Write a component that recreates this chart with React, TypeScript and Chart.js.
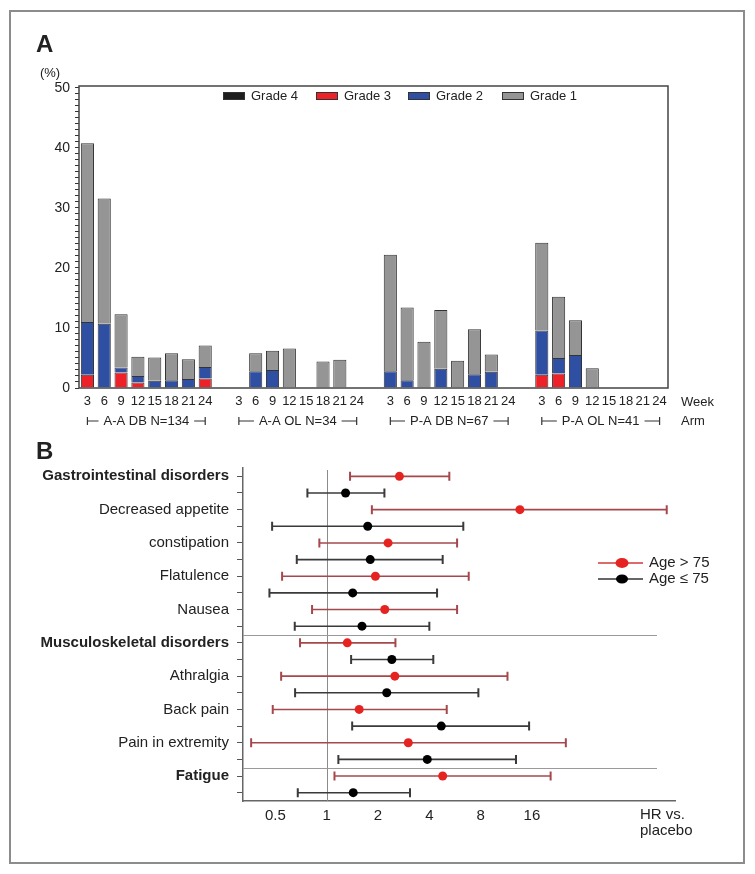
import React, { useEffect, useRef } from 'react';
import { Chart, registerables } from 'chart.js';
Chart.register(...registerables);

const FONT = '"Liberation Sans", Arial, sans-serif';

// ---------- Panel A data ----------
const weeks = ['3', '6', '9', '12', '15', '18', '21', '24'];
const arms = ['A-A DB N=134', 'A-A OL N=34', 'P-A DB N=67', 'P-A OL N=41'];
const gradeNames = ['Grade 4', 'Grade 3', 'Grade 2', 'Grade 1'];
const gradeColors = ['#1e1e1e', '#ee2028', '#2f4fa2', '#959595'];
// per arm (A-A DB, A-A OL, P-A DB, P-A OL), per week 3..24, in %
const grade4 = [
  0, 0, 0, 0, 0, 0, 0, 0,
  0, 0, 0, 0, 0, 0, 0, 0,
  0, 0, 0, 0, 0, 0, 0, 0,
  0, 0, 0, 0, 0, 0, 0, 0,
];
const grade3 = [
  2.2, 0, 2.6, 0.9, 0, 0, 0, 1.6,
  0, 0, 0, 0, 0, 0, 0, 0,
  0, 0, 0, 0, 0, 0, 0, 0,
  2.2, 2.4, 0, 0, 0, 0, 0, 0,
];
const grade2 = [
  8.8, 10.7, 0.8, 1.1, 1.2, 1.3, 1.5, 1.9,
  0, 2.8, 3.0, 0, 0, 0, 0, 0,
  2.8, 1.3, 0, 3.2, 0, 2.3, 2.7, 0,
  7.4, 2.6, 5.5, 0, 0, 0, 0, 0,
];
const grade1 = [
  29.8, 20.9, 8.9, 3.2, 3.9, 4.5, 3.3, 3.6,
  0, 3.0, 3.2, 6.6, 0, 4.4, 4.7, 0,
  19.4, 12.1, 7.7, 9.8, 4.55, 7.5, 2.9, 0,
  14.6, 10.2, 5.8, 3.3, 0, 0, 0, 0,
];
const yTickValues = [0, 10, 20, 30, 40, 50];

// ---------- Panel B data ----------
const aeNames = [
  'Gastrointestinal disorders', 'Decreased appetite', 'constipation', 'Flatulence', 'Nausea',
  'Musculoskeletal disorders', 'Athralgia', 'Back pain', 'Pain in extremity', 'Fatigue',
];
const aeBold = [true, false, false, false, false, true, false, false, false, true];
const oldLo = [1.37, 1.84, 0.905, 0.547, 0.82, 0.697, 0.54, 0.482, 0.36, 1.11];
const oldHr = [2.67, 13.6, 2.29, 1.93, 2.19, 1.32, 2.51, 1.55, 3.01, 4.79];
const oldHi = [5.24, 98.9, 5.82, 6.81, 5.82, 2.53, 11.5, 5.06, 25.3, 20.6];
const youngLo = [0.77, 0.478, 0.667, 0.461, 0.649, 1.39, 0.652, 1.41, 1.17, 0.676];
const youngHr = [1.29, 1.74, 1.80, 1.42, 1.61, 2.41, 2.25, 4.70, 3.89, 1.43];
const youngHi = [2.18, 6.33, 4.79, 4.44, 4.0, 4.22, 7.76, 15.4, 12.9, 3.08];
const hrTicks = [0.5, 1, 2, 4, 8, 16];
const seriesNames = ['Age > 75', 'Age \u2264 75'];
const HR_MIN = 0.3225;
const HR_MAX = 110.6;

function expand(arr: number[]): (number | null)[] {
  const out: (number | null)[] = [];
  for (let a = 0; a < 4; a++) {
    for (let w = 0; w < 8; w++) out.push(arr[a * 8 + w]);
    if (a < 3) out.push(null);
  }
  return out;
}
function catLabels(): string[] {
  const out: string[] = [];
  for (let a = 0; a < 4; a++) {
    weeks.forEach((w) => out.push(w));
    if (a < 3) out.push('');
  }
  return out;
}

const A_W = 730, A_H = 421, A_X = 12, A_Y = 14;
const B_W = 730, B_H = 424, B_X = 12, B_Y = 436;

function PanelA() {
  const ref = useRef<HTMLCanvasElement>(null);
  useEffect(() => {
    const ctxEl = ref.current!;
    const plugin = {
      id: 'panelA',
      afterDatasetsDraw(chart: any) {
        const { ctx, chartArea } = chart;
        ctx.save();
        ctx.strokeStyle = '#444';
        ctx.lineWidth = 1.5;
        ctx.strokeRect(chartArea.left, chartArea.top, chartArea.right - chartArea.left, chartArea.bottom - chartArea.top);
        ctx.restore();
      },
      afterDraw(chart: any) {
        const { ctx } = chart;
        const xs = chart.scales.x;
        ctx.save();
        ctx.fillStyle = '#222';
        ctx.textBaseline = 'middle';
        ctx.font = `bold 24px ${FONT}`;
        ctx.textAlign = 'left';
        ctx.fillText('A', 24, 31);
        ctx.font = `13px ${FONT}`;
        ctx.textAlign = 'center';
        ctx.fillText('(%)', 38, 59);
        // legend
        const lx = [211, 304, 396, 490];
        ctx.textAlign = 'left';
        gradeNames.forEach((g, i) => {
          ctx.fillStyle = gradeColors[i];
          ctx.fillRect(lx[i], 78, 22, 8);
          ctx.strokeStyle = '#333';
          ctx.lineWidth = 1;
          ctx.strokeRect(lx[i] + 0.5, 78.5, 21, 7);
          ctx.fillStyle = '#222';
          ctx.fillText(g, lx[i] + 28, 82);
        });
        ctx.fillText('Week', 669, 388);
        ctx.fillText('Arm', 669, 407);
        // arm brackets
        arms.forEach((arm, a) => {
          const x0 = xs.getPixelForValue(a * 9);
          const x1 = xs.getPixelForValue(a * 9 + 7);
          const cx = (x0 + x1) / 2;
          const y = 407;
          const tw = ctx.measureText(arm).width;
          ctx.textAlign = 'center';
          ctx.fillStyle = '#222';
          ctx.fillText(arm, cx, y);
          ctx.strokeStyle = '#333';
          ctx.lineWidth = 1.2;
          ctx.beginPath();
          ctx.moveTo(x0, y - 4); ctx.lineTo(x0, y + 4);
          ctx.moveTo(x0, y); ctx.lineTo(cx - tw / 2 - 5, y);
          ctx.moveTo(cx + tw / 2 + 5, y); ctx.lineTo(x1, y);
          ctx.moveTo(x1, y - 4); ctx.lineTo(x1, y + 4);
          ctx.stroke();
        });
        ctx.restore();
      },
    };
    const grades = [grade4, grade3, grade2, grade1];
    const chart = new Chart(ctxEl, {
      type: 'bar',
      data: {
        labels: catLabels(),
        datasets: grades.map((g, i) => ({
          label: gradeNames[i],
          data: expand(g),
          backgroundColor: gradeColors[i],
          borderColor: '#333',
          borderWidth: 1,
          categoryPercentage: 1,
          barPercentage: 0.78,
        })),
      },
      options: {
        animation: false,
        responsive: false,
        devicePixelRatio: 1,
        layout: { padding: { left: 0, top: 86 - A_Y, right: A_X + A_W - 668, bottom: 0 } },
        plugins: { legend: { display: false }, tooltip: { enabled: false } },
        scales: {
          x: {
            stacked: true,
            grid: { display: false, drawTicks: false },
            border: { display: false },
            ticks: { autoSkip: false, maxRotation: 0, padding: 6, color: '#222', font: { family: FONT, size: 13 } },
            afterFit: (s: any) => { s.height = A_Y + A_H - 388; },
          },
          y: {
            stacked: true,
            min: 0,
            max: 50.33,
            grid: { display: true, drawOnChartArea: false, drawTicks: true, tickLength: 4, tickColor: '#333', tickWidth: 1 },
            border: { display: false },
            ticks: {
              autoSkip: false,
              padding: 5,
              color: '#222',
              font: { family: FONT, size: 14 },
              callback: (v: any) => (yTickValues.includes(Number(v)) ? String(v) : ''),
            },
            afterBuildTicks: (s: any) => {
              const t = [];
              for (let v = 0; v <= 50; v++) t.push({ value: v });
              s.ticks = t;
            },
            afterFit: (s: any) => { s.width = 79 - A_X; },
          },
        },
      },
      plugins: [plugin],
    } as any);
    return () => chart.destroy();
  }, []);
  return (
    <canvas ref={ref} width={A_W} height={A_H}
      style={{ position: 'absolute', left: A_X - 8, top: A_Y - 8, width: A_W, height: A_H }} />
  );
}

function PanelB() {
  const ref = useRef<HTMLCanvasElement>(null);
  useEffect(() => {
    const el = ref.current!;
    const redLine = '#a5484c';
    const blackLine = '#3a3a3a';
    const plugin = {
      id: 'panelB',
      beforeDatasetsDraw(chart: any) {
        const { ctx, chartArea } = chart;
        const xs = chart.scales.x, ys = chart.scales.y;
        ctx.save();
        // reference line at HR = 1
        const x1 = Math.round(xs.getPixelForValue(1)) + 0.5;
        ctx.strokeStyle = '#8a8a8a';
        ctx.lineWidth = 1;
        ctx.beginPath();
        ctx.moveTo(x1, chartArea.top + 2); ctx.lineTo(x1, chartArea.bottom);
        ctx.stroke();
        // dividers between groups
        [10.5, 18.5].forEach((r) => {
          const y = Math.round(ys.getPixelForValue(r)) + 0.5;
          ctx.strokeStyle = '#9a9a9a';
          ctx.beginPath();
          ctx.moveTo(chartArea.left, y); ctx.lineTo(chartArea.right - 18, y);
          ctx.stroke();
        });
        const drawCI = (lo: number, hi: number, row: number, col: string) => {
          const y = ys.getPixelForValue(row);
          const a = xs.getPixelForValue(lo), b = xs.getPixelForValue(hi);
          ctx.strokeStyle = col;
          ctx.lineWidth = 1.6;
          ctx.beginPath();
          ctx.moveTo(a, y); ctx.lineTo(b, y);
          ctx.stroke();
          ctx.lineWidth = 2;
          ctx.beginPath();
          ctx.moveTo(a, y - 4.5); ctx.lineTo(a, y + 4.5);
          ctx.moveTo(b, y - 4.5); ctx.lineTo(b, y + 4.5);
          ctx.stroke();
        };
        aeNames.forEach((_, i) => {
          drawCI(oldLo[i], oldHi[i], 2 * i + 1, redLine);
          drawCI(youngLo[i], youngHi[i], 2 * i + 2, blackLine);
        });
        ctx.restore();
      },
      afterDraw(chart: any) {
        const { ctx } = chart;
        ctx.save();
        ctx.fillStyle = '#222';
        ctx.textBaseline = 'middle';
        ctx.textAlign = 'left';
        ctx.font = `bold 24px ${FONT}`;
        ctx.fillText('B', 24, 16);
        ctx.font = `15px ${FONT}`;
        ctx.fillText('HR vs.', 628, 379);
        ctx.fillText('placebo', 628, 395);
        // legend
        const items = [
          { y: 563 - B_Y, line: '#d23a3a', dot: '#e52421', r: 5.5 },
          { y: 579 - B_Y, line: '#333', dot: '#000', r: 5 },
        ];
        items.forEach((it, i) => {
          ctx.strokeStyle = it.line;
          ctx.lineWidth = 1.5;
          ctx.beginPath();
          ctx.moveTo(598 - B_X, it.y); ctx.lineTo(643 - B_X, it.y);
          ctx.stroke();
          ctx.fillStyle = it.dot;
          ctx.beginPath();
          ctx.ellipse(622 - B_X, it.y, it.r + 1, it.r - 0.5, 0, 0, Math.PI * 2);
          ctx.fill();
          ctx.fillStyle = '#222';
          ctx.fillText(seriesNames[i], 649 - B_X, it.y);
        });
        ctx.restore();
      },
    };
    const chart = new Chart(el, {
      type: 'scatter',
      data: {
        datasets: [
          {
            label: seriesNames[0],
            data: oldHr.map((v, i) => ({ x: v, y: 2 * i + 1 })),
            backgroundColor: '#e52421',
            borderColor: '#e52421',
            pointRadius: 4.5,
            pointBorderWidth: 0,
          },
          {
            label: seriesNames[1],
            data: youngHr.map((v, i) => ({ x: v, y: 2 * i + 2 })),
            backgroundColor: '#000',
            borderColor: '#000',
            pointRadius: 4.5,
            pointBorderWidth: 0,
          },
        ],
      },
      options: {
        animation: false,
        responsive: false,
        devicePixelRatio: 1,
        layout: { padding: { left: 0, top: 468 - B_Y, right: B_X + B_W - 675, bottom: 0 } },
        plugins: { legend: { display: false }, tooltip: { enabled: false } },
        scales: {
          x: {
            type: 'logarithmic',
            bounds: 'data',
            min: HR_MIN,
            max: HR_MAX,
            grid: { display: false, drawTicks: false },
            border: { display: true, color: '#666', width: 1.5 },
            ticks: {
              autoSkip: false,
              maxRotation: 0,
              padding: 6,
              color: '#222',
              font: { family: FONT, size: 15 },
              callback: (v: any) => String(v),
            },
            afterBuildTicks: (s: any) => {
              s.ticks = hrTicks.map((v) => ({ value: v }));
              s.min = HR_MIN;
              s.max = HR_MAX;
            },
            afterFit: (s: any) => { s.height = B_Y + B_H - 801; },
          },
          y: {
            type: 'linear',
            reverse: true,
            min: 0.5,
            max: 20.5,
            grid: { display: true, drawOnChartArea: false, drawTicks: true, tickLength: 6, tickColor: '#555', tickWidth: 1 },
            border: { display: true, color: '#666', width: 1.5 },
            ticks: {
              autoSkip: false,
              padding: 8,
              color: '#222',
              font: (c: any) => {
                const v = c.tick ? c.tick.value : 1;
                const i = (v - 1) / 2;
                return { family: FONT, size: 15, weight: Number.isInteger(i) && aeBold[i] ? 'bold' : 'normal' };
              },
              callback: (v: any) => {
                const n = Number(v);
                return n % 2 === 1 ? aeNames[(n - 1) / 2] : '';
              },
            },
            afterBuildTicks: (s: any) => {
              const t = [];
              for (let r = 1; r <= 20; r++) t.push({ value: r });
              s.ticks = t;
            },
            afterFit: (s: any) => { s.width = 243 - B_X; },
          },
        },
      },
      plugins: [plugin],
    } as any);
    return () => chart.destroy();
  }, []);
  return (
    <canvas ref={ref} width={B_W} height={B_H}
      style={{ position: 'absolute', left: B_X - 8, top: B_Y - 8, width: B_W, height: B_H }} />
  );
}

export default function App() {
  return (
    <div style={{ position: 'relative', width: 739, height: 858, fontFamily: FONT }}>
      <div style={{
        position: 'absolute', left: 1, top: 2, width: 736, height: 854,
        border: '2px solid #8c8c8c', boxSizing: 'border-box',
      }} />
      <PanelA />
      <PanelB />
    </div>
  );
}
